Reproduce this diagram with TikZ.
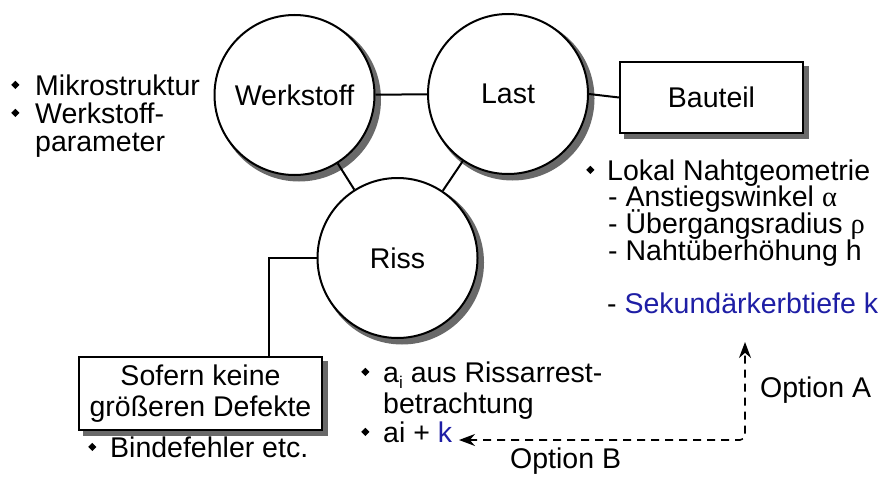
\documentclass[tikz,border=0pt]{standalone}
\usepackage{fontspec}
\usepackage{graphicx}
\setmainfont{Liberation Sans}
\newfontfamily\grk{Liberation Serif}
\usetikzlibrary{arrows.meta}
\definecolor{kblue}{RGB}{30,30,165}
\definecolor{shgray}{RGB}{105,105,105}
\newcommand\bul[1][22pt]{\makebox[#1][l]{\raisebox{6pt}{\rotatebox{45}{\rule{5.8pt}{5.8pt}}}}}
\begin{document}
\begin{tikzpicture}[x=1pt,y=-1pt,
  every node/.style={font=\fontsize{28.5}{31}\selectfont},
  circ/.style={circle,draw,line width=2pt,fill=white,minimum size=160pt,inner sep=0pt},
  boxx/.style={rectangle,draw,line width=2pt,fill=white,inner sep=0pt,align=center},
  shdw/.style={fill=shgray,draw=shgray,line width=2pt},
  txt/.style={anchor=base west,inner sep=0pt},
  conn/.style={line width=2pt},
  dsh/.style={line width=1.6pt,dash pattern=on 8pt off 6pt,rounded corners=5pt,
    {Stealth[length=16pt,width=12pt]}-{Stealth[length=16pt,width=12pt]}}]
\fill[white] (0,0) rectangle (883,479);
\useasboundingbox (0,0) rectangle (883,479);

\coordinate (cW) at (294.5,95);
\coordinate (cL) at (508,94);
\coordinate (cR) at (397.5,258);
\coordinate (cB) at (711.5,97.5);
\coordinate (cS) at (200.5,393.5);

% drop shadows
\filldraw[shdw] ([shift={(4.5,4.5)}]cW) circle (81);
\filldraw[shdw] ([shift={(4.5,4.5)}]cL) circle (81);
\filldraw[shdw] ([shift={(4.5,4.5)}]cR) circle (81);
\filldraw[shdw] ([shift={(-87,-31)}]cB) rectangle ([shift={(96.5,40.5)}]cB);
\filldraw[shdw] ([shift={(-117,-32)}]cS) rectangle ([shift={(126.5,41.5)}]cS);

\node[circ] (W) at (cW) {Werkstoff};
\node[circ] (L) at (cL) {Last};
\node[circ] (R) at (cR) {Riss};
\node[boxx,minimum width=183pt,minimum height=71pt] (B) at (cB) {Bauteil};
\node[boxx,minimum width=243pt,minimum height=73pt] (S) at (cS) {Sofern keine\\größeren Defekte};

\draw[conn] (W) -- (L);
\draw[conn] (W) -- (R);
\draw[conn] (L) -- (R);
\draw[conn] (L.east) -- (B.west);
\draw[conn] (R.west) -| ([xshift=68pt]S.north);

% left text
\node[txt] (t1) at (11,95) {\bul[24pt]Mikrostruktur};
\node[txt] (t2) at (11,123) {\bul[24pt]Werkstoff-};
\node[txt] (t3) at (35,151) {parameter};

% right text
\node[txt] (l1) at (586,180) {\bul[21pt]Lokal Nahtgeometrie};
\node[txt] (l2) at (608,206) {- Anstiegswinkel {\grk α}};
\node[txt] (l3) at (608,233) {- Übergangsradius {\grk ρ}};
\node[txt] (l4) at (608,260) {- Nahtüberhöhung h};
\node[txt] (l5) at (607,313) {- {\color{kblue}Sekundärkerbtiefe k}};

% bottom text
\node[txt] (b1) at (88,457) {\bul Bindefehler etc.};
\node[txt] (a1) at (361,382) {\bul a\raisebox{-6pt}{\fontsize{17}{17}\selectfont i} aus Rissarrest-};
\node[txt] (a2) at (383,413) {betrachtung};
\node[txt] (a3) at (361,442) {\bul ai + {\color{kblue}k}};
\node[txt] (oA) at (760,397) {Option A};
\node[txt] (oB) at (510,468) {Option B};

\coordinate (aT) at (745,342);
\coordinate (bT) at (459,440);
\draw[dsh] (bT) -| (aT);
\end{tikzpicture}
\end{document}
